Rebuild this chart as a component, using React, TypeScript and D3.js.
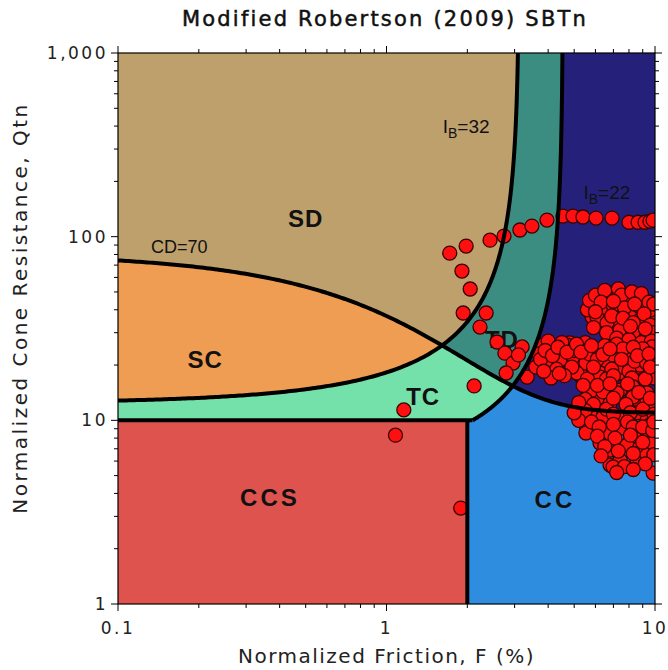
import React from "react";
import * as d3 from "d3";

// Axis extents and tick values
const frictionDomain = [0.1, 10];
const coneDomain = [1, 1000];
const frictionMajor = [0.1, 1, 10];
const coneMajor = [1, 10, 100, 1000];

// Boundary parameters (Robertson 2016 style)
const CD_LEVEL = 70;
const IB_UPPER = 32;
const IB_LOWER = 22;
const CLAY_Q = 10;
const CLAY_F = 2;

// CPT readings: [F (%), Qtn]
const upperTrend: [number, number][] = [
  [1.72, 81.4], [1.98, 88.9], [1.91, 65.0], [2.05, 51.9], [2.43, 95.7],
  [2.74, 100.7], [3.14, 108.7], [3.48, 114.2], [3.96, 123.1], [4.54, 129.5],
  [4.95, 129.5], [5.39, 128], [6.03, 126.2], [6.92, 126.2], [8.0, 119.8],
  [8.65, 119.8], [9.18, 119.8], [9.58, 121.3], [9.84, 123],
];

const transitionPoints: [number, number][] = [
  [1.93, 38.4], [2.35, 38.4], [2.23, 32.2], [2.58, 26.7], [2.76, 23.2],
  [2.96, 20.5], [3.2, 25.1], [2.79, 18.1], [3.34, 17.2], [3.1, 22.7],
  [2.12, 15.4], [1.16, 11.4], [1.08, 8.3], [1.89, 3.33],
];

const clusterUpper: [number, number][] = [
  [6.24, 47.5], [6.98, 49.3], [7.87, 48.1], [8.65, 46.3], [9.34, 40.9],
  [9.84, 38.4], [5.98, 42.4], [6.63, 38.4], [6.4, 34.3], [7.1, 33.9],
  [7.6, 31.0], [8.57, 29.9], [9.34, 28.1], [5.83, 36.5], [8.07, 38.4],
  [8.79, 35.2], [6.98, 46.3], [7.87, 45.2], [8.79, 41.4], [9.58, 39.8],
  [6.08, 36.5], [6.63, 33.9], [7.41, 31.0], [8.28, 29.9], [9.34, 28.4],
  [5.6, 40], [5.7, 45], [6.0, 48], [6.5, 51], [7.3, 52], [7.5, 48],
  [8.2, 50], [8.9, 49], [9.5, 44], [9.9, 43], [6.3, 44], [7.0, 42],
  [7.7, 41], [8.4, 43], [9.1, 38], [6.0, 39], [6.9, 37], [7.6, 36],
  [8.3, 34], [9.6, 33], [9.9, 30], [5.9, 32], [6.6, 30], [7.2, 28],
  [8.0, 27.5], [8.9, 26.5], [9.7, 27], [7.0, 44.5], [8.1, 32.5], [9.2, 31.5],
];

const clusterMiddle: [number, number][] = [
  [4.82, 26.4], [5.39, 25.1], [6.08, 24.1], [7.22, 23.2], [8.21, 23.5],
  [9.02, 22.1], [9.74, 25.1], [4.62, 22.1], [5.26, 21.3], [6.63, 20.8],
  [7.87, 20.5], [8.65, 19.5], [5.26, 18.3], [6.24, 18.1], [7.41, 18.1],
  [9.58, 18.8], [3.83, 25.7], [4.24, 24.1], [4.7, 25.7], [3.96, 20.8],
  [4.43, 21.3], [4.95, 22.1], [5.53, 20.5], [5.12, 18.1], [5.88, 17.2],
  [6.24, 17.2], [6.98, 22.7], [7.87, 21.8], [8.79, 20.0], [7.41, 19.5],
  [3.7, 23], [4.0, 27], [4.3, 19], [4.5, 26.5], [4.9, 19.5], [5.0, 24],
  [5.5, 26.5], [5.7, 23], [6.1, 21.5], [6.5, 25.5], [6.9, 19], [7.2, 26],
  [7.6, 24.5], [8.0, 18.5], [8.4, 21], [9.0, 24.5], [9.3, 20.5], [9.8, 21.5],
  [9.9, 17], [6.6, 16.8], [7.0, 17.5], [8.2, 17], [9.2, 16.8], [4.6, 17.5],
  [5.6, 16.8], [3.6, 19.5], [4.1, 17],
  [3.75, 21.5], [3.9, 24], [4.15, 22.5], [4.35, 25], [4.4, 18], [3.85, 18.5],
  [4.7, 23.5], [5.1, 26], [5.3, 23.5], [5.8, 25.5], [5.9, 19.5], [6.4, 22.8],
  [6.8, 24.5], [7.5, 21.5], [8.3, 25], [8.6, 22.5], [9.5, 23], [9.6, 19.5],
];

const clusterLower: [number, number][] = [
  [6.24, 13.4], [6.8, 12.4], [7.41, 14.6], [8.28, 15.2], [9.34, 14.1],
  [8.79, 12.4], [5.83, 14.6], [6.4, 14.3], [7.22, 14.1], [8.28, 13.4],
  [9.34, 12.6], [9.84, 12.1], [5.73, 11.0], [6.4, 10.4], [7.41, 10.4],
  [8.57, 11.0], [9.34, 10.0], [5.88, 8.86], [6.63, 8.53], [7.6, 9.08],
  [8.57, 8.63], [9.34, 8.11], [6.24, 7.52], [6.8, 6.89], [7.87, 7.34],
  [8.79, 7.16], [9.58, 6.89], [6.8, 5.71], [7.41, 6.08], [8.57, 6.08],
  [9.34, 6.47], [5.53, 9.43], [5.53, 8.53], [6.98, 5.57], [9.84, 5.16],
  [9.58, 9.43], [9.84, 7.5],
  [5.4, 15.5], [5.5, 13], [5.9, 12.2], [6.1, 15.5], [6.6, 11.5], [7.0, 13.2],
  [7.0, 10.8], [7.8, 12.2], [7.9, 15.8], [8.1, 11], [8.7, 14.2], [9.0, 11.5],
  [9.6, 13.2], [9.9, 10.8], [5.5, 11.3], [5.2, 10], [5.8, 9.8], [6.2, 9.2],
  [7.0, 9.5], [7.9, 9.8], [8.3, 9.2], [9.0, 9.2], [9.8, 8.8], [6.1, 8.2],
  [7.1, 8], [8.1, 8.3], [9.0, 7.6], [9.9, 6.5], [6.5, 7.2], [7.3, 6.8],
  [8.3, 6.6], [9.2, 5.8], [7.7, 5.6], [8.3, 5.4], [6.3, 6.4], [7.2, 5.2],
  [9.9, 9.8], [5.2, 12.5], [5.0, 11], [6.8, 15.8],
];

const readings = [...upperTrend, ...transitionPoints, ...clusterUpper, ...clusterMiddle, ...clusterLower];

// Zone fills
const zoneColors = {
  SD: "#bea06c",
  SC: "#ee9d52",
  TC: "#74e0aa",
  TD: "#3c8d81",
  CD: "#25217a",
  CC: "#2f8de0",
  CCS: "#de534d",
};

// Boundary curves
const cdCurve = (f: number) => 11 + CD_LEVEL / Math.pow(1 + 0.06 * f, 17);
const ibCurve = (ib: number) => (f: number) => (ib * 70 - 1000) / (100 - ib * f);
const ibInverse = (ib: number) => (q: number) => (100 - (ib * 70 - 1000) / q) / ib;
const ib32 = ibCurve(IB_UPPER);
const ib22 = ibCurve(IB_LOWER);

function crossing(g: (f: number) => number, lo: number, hi: number) {
  for (let i = 0; i < 80; i++) {
    const mid = (lo + hi) / 2;
    if (Math.sign(g(lo)) === Math.sign(g(mid))) lo = mid;
    else hi = mid;
  }
  return (lo + hi) / 2;
}

const fA = crossing((f) => ib32(f) - cdCurve(f), 0.5, 3.0);
const fB = crossing((f) => ib22(f) - cdCurve(f), 2.2, 4.4);
const top32 = ibInverse(IB_UPPER)(coneDomain[1]);
const top22 = ibInverse(IB_LOWER)(coneDomain[1]);
const base22 = ibInverse(IB_LOWER)(CLAY_Q);

// Sample a curve in log space between two friction values
function sampleF(fn: (f: number) => number, a: number, b: number, n = 120): [number, number][] {
  const la = Math.log10(a), lb = Math.log10(b);
  return d3.range(n + 1).map((i) => {
    const f = Math.pow(10, la + ((lb - la) * i) / n);
    return [f, fn(f)] as [number, number];
  });
}
// Sample an IB curve by Qtn (log space), returning [F, Q]
function sampleQ(ib: number, qa: number, qb: number, n = 160): [number, number][] {
  const inv = ibInverse(ib);
  const la = Math.log10(qa), lb = Math.log10(qb);
  return d3.range(n + 1).map((i) => {
    const q = Math.pow(10, la + ((lb - la) * i) / n);
    return [inv(q), q] as [number, number];
  });
}

const W = 668, H = 670;
const margin = { left: 118, right: 13, top: 53, bottom: 66 };
const font = "DejaVu Sans, Verdana, sans-serif";

export default function App() {
  const x = d3.scaleLog().domain(frictionDomain).range([margin.left, W - margin.right]);
  const y = d3.scaleLog().domain(coneDomain).range([H - margin.bottom, margin.top]);
  const line = d3.line<[number, number]>().x((d) => x(d[0])).y((d) => y(d[1]));
  const poly = (pts: [number, number][]) => line(pts) + "Z";

  const [f0, f1] = frictionDomain;
  const [q0, q1] = coneDomain;
  const qA = cdCurve(fA);
  const qB = cdCurve(fB);

  const cdLeft = sampleF(cdCurve, f0, fA);
  const cdRight = sampleF(cdCurve, fB, f1);
  const cdMid = sampleF(cdCurve, fA, fB);
  const ib32Low = sampleF(ib32, f0, fA);
  const ib32High = sampleQ(IB_UPPER, qA, q1);
  const ib22High = sampleQ(IB_LOWER, qB, q1);
  const ib22Low = sampleQ(IB_LOWER, CLAY_Q, qB);

  const zones: { key: keyof typeof zoneColors; pts: [number, number][] }[] = [
    { key: "SD", pts: [[f0, q1], ...cdLeft, ...ib32High, [top32, q1]] },
    { key: "SC", pts: [...cdLeft, ...ib32Low.slice().reverse()] },
    { key: "TC", pts: [[f0, CLAY_Q], ...ib32Low, ...cdMid, ...ib22Low.slice().reverse(), [base22, CLAY_Q]] },
    { key: "TD", pts: [...ib32High, [top32, q1], [top22, q1], ...ib22High.slice().reverse(), ...cdMid.slice().reverse()] },
    { key: "CD", pts: [[top22, q1], [f1, q1], ...cdRight.slice().reverse(), ...ib22High] },
    { key: "CC", pts: [[CLAY_F, q0], [f1, q0], ...cdRight.slice().reverse(), ...ib22Low.slice().reverse(), [CLAY_F, CLAY_Q]] },
    { key: "CCS", pts: [[f0, q0], [CLAY_F, q0], [CLAY_F, CLAY_Q], [f0, CLAY_Q]] },
  ];

  const boundaries: [number, number][][] = [
    sampleF(cdCurve, f0, f1, 200),
    [...ib32Low, ...ib32High],
    [[base22, CLAY_Q], ...ib22Low, ...ib22High],
    [[f0, CLAY_Q], [CLAY_F, CLAY_Q], [base22, CLAY_Q]],
    [[CLAY_F, q0], [CLAY_F, CLAY_Q]],
  ];

  const xTicks = x.ticks();
  const yTicks = y.ticks();
  const isMajor = (v: number) => Math.abs(Math.log10(v) - Math.round(Math.log10(v))) < 1e-6;
  const fmt = d3.format(",");
  const [xl, xr] = x.range();
  const [yb, yt] = y.range();

  const zoneLabel = { fontFamily: "Liberation Sans, Arial, sans-serif", fontWeight: 700, fontSize: 24, fill: "#111" } as const;
  const annot = { fontFamily: "Liberation Sans, Arial, sans-serif", fontSize: 18, fill: "#111" } as const;

  return (
    <svg width={W} height={H} style={{ position: "absolute", left: 0, top: 0, background: "#fff" }}>
      <defs>
        <clipPath id="plot-area">
          <rect x={xl} y={yt} width={xr - xl} height={yb - yt} />
        </clipPath>
      </defs>
      <text x={385} y={26} textAnchor="middle" fontFamily={font} fontSize={21} letterSpacing={2.2} fill="#111" stroke="#111" strokeWidth={0.5}>
        Modified Robertson (2009) SBTn
      </text>

      <g clipPath="url(#plot-area)">
        {zones.map((z) => (
          <path key={z.key} d={poly(z.pts)} fill={zoneColors[z.key]} />
        ))}
        <text x={x(0.5)} y={y(126)} dy="0.35em" textAnchor="middle" {...zoneLabel} letterSpacing={1}>SD</text>
        <text x={x(0.211)} y={y(21.3)} dy="0.35em" textAnchor="middle" {...zoneLabel} letterSpacing={1}>SC</text>
        <text x={x(1.37)} y={y(13.4)} dy="0.35em" textAnchor="middle" {...zoneLabel} letterSpacing={1}>TC</text>
        <text x={x(2.69)} y={y(27.4)} dy="0.35em" textAnchor="middle" {...zoneLabel} letterSpacing={1}>TD</text>
        <text x={x(5.83)} y={y(17)} dy="0.35em" textAnchor="middle" {...zoneLabel} letterSpacing={1}>CD</text>
        <text x={x(0.368)} y={y(3.78)} dy="0.35em" textAnchor="middle" {...zoneLabel} letterSpacing={3}>CCS</text>
        <text x={x(4.24)} y={y(3.68)} dy="0.35em" textAnchor="middle" {...zoneLabel} letterSpacing={3}>CC</text>

        <text x={x(0.169)} y={y(76)} dy="-0.3em" textAnchor="middle" {...annot}>CD=70</text>
        <text x={x(1.98)} y={y(400)} dy="0.35em" textAnchor="middle" {...annot} fontSize={19}>
          I<tspan fontSize={14} dy="5">B</tspan><tspan dy="-5">=32</tspan>
        </text>
        <text x={x(6.62)} y={y(175)} dy="0.35em" textAnchor="middle" {...annot} fontSize={19}>
          I<tspan fontSize={14} dy="5">B</tspan><tspan dy="-5">=22</tspan>
        </text>

        {readings.map((d, i) => (
          <circle key={i} cx={x(d[0])} cy={y(d[1])} r={7} fill="#ff1010" stroke="#3a0000" strokeWidth={1.3} />
        ))}

        {boundaries.map((b, i) => (
          <path key={i} d={line(b) ?? ""} fill="none" stroke="#000" strokeWidth={4} strokeLinejoin="round" />
        ))}
      </g>

      <rect x={xl} y={yt} width={xr - xl} height={yb - yt} fill="none" stroke="#000" strokeWidth={1.2} />

      {xTicks.map((t, i) => {
        const len = isMajor(t) ? 7 : 4;
        return (
          <g key={"x" + i}>
            <line x1={x(t)} x2={x(t)} y1={yb} y2={yb + len} stroke="#000" />
            <line x1={x(t)} x2={x(t)} y1={yt} y2={yt - len} stroke="#000" />
          </g>
        );
      })}
      {yTicks.map((t, i) => {
        const len = isMajor(t) ? 7 : 4;
        return (
          <g key={"y" + i}>
            <line x1={xl} x2={xl - len} y1={y(t)} y2={y(t)} stroke="#000" />
            <line x1={xr} x2={xr + len} y1={y(t)} y2={y(t)} stroke="#000" />
          </g>
        );
      })}
      {frictionMajor.map((t) => (
        <text key={"xl" + t} x={x(t)} y={yb + 30} textAnchor="middle" fontFamily={font} fontSize={17} letterSpacing={2.5} fill="#222">
          {t}
        </text>
      ))}
      {coneMajor.map((t) => (
        <text key={"yl" + t} x={xl - 10} y={y(t)} dy="0.35em" textAnchor="end" fontFamily={font} fontSize={17} letterSpacing={2.5} fill="#222">
          {fmt(t)}
        </text>
      ))}
      <text x={(xl + xr) / 2} y={663} textAnchor="middle" fontFamily={font} fontSize={20} letterSpacing={1.5} fill="#222">
        Normalized Friction, F (%)
      </text>
      <text transform={`translate(27, 308) rotate(-90)`} textAnchor="middle" fontFamily={font} fontSize={20} letterSpacing={2.5} fill="#222">
        Normalized Cone Resistance, Qtn
      </text>
    </svg>
  );
}
